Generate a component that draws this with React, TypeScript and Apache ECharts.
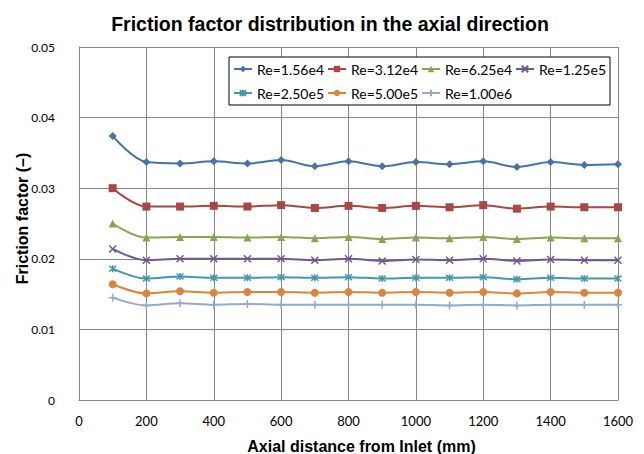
import React, { useEffect, useRef } from "react";
import * as echarts from "echarts";

const titleText = "Friction factor distribution in the axial direction";
const xName = "Axial distance from Inlet (mm)";
const yName = "Friction factor (–)";

const positions = [100, 200, 300, 400, 500, 600, 700, 800, 900, 1000, 1100, 1200, 1300, 1400, 1500, 1600];

const seriesNames = ["Re=1.56e4", "Re=3.12e4", "Re=6.25e4", "Re=1.25e5", "Re=2.50e5", "Re=5.00e5", "Re=1.00e6"];

const re156e4 = [0.0374, 0.0337, 0.0335, 0.0338, 0.0335, 0.0340, 0.0331, 0.0338, 0.0331, 0.0337, 0.0334, 0.0338, 0.0330, 0.0337, 0.0333, 0.0334];
const re312e4 = [0.0300, 0.0274, 0.0274, 0.0275, 0.0274, 0.0276, 0.0272, 0.0275, 0.0272, 0.0275, 0.0273, 0.0276, 0.0271, 0.0274, 0.0273, 0.0273];
const re625e4 = [0.0250, 0.0230, 0.0231, 0.0231, 0.0230, 0.0231, 0.0229, 0.0231, 0.0228, 0.0230, 0.0229, 0.0231, 0.0228, 0.0230, 0.0229, 0.0229];
const re125e5 = [0.0214, 0.0198, 0.0200, 0.0200, 0.0200, 0.0200, 0.0198, 0.0200, 0.0197, 0.0199, 0.0198, 0.0200, 0.0197, 0.0199, 0.0198, 0.0198];
const re250e5 = [0.0186, 0.0172, 0.0175, 0.0173, 0.0173, 0.0174, 0.0173, 0.0174, 0.0172, 0.0173, 0.0173, 0.0174, 0.0171, 0.0173, 0.0172, 0.0172];
const re500e5 = [0.0164, 0.0151, 0.0154, 0.0152, 0.0153, 0.0153, 0.0152, 0.0153, 0.0152, 0.0153, 0.0152, 0.0153, 0.0151, 0.0153, 0.0152, 0.0152];
const re100e6 = [0.0145, 0.0134, 0.0137, 0.0135, 0.0136, 0.0135, 0.0135, 0.0135, 0.0135, 0.0135, 0.0134, 0.0135, 0.0134, 0.0135, 0.0135, 0.0135];

const seriesValues = [re156e4, re312e4, re625e4, re125e5, re250e5, re500e5, re100e6];
const colors = ["#4572A7", "#AA4643", "#89A54E", "#71588F", "#4198AF", "#DB843D", "#93A9CF"];
const symbols = [
  "diamond",
  "rect",
  "triangle",
  "path://M0,0L10,10M10,0L0,10",
  "path://M0,0L10,10M10,0L0,10M5,-1L5,11",
  "circle",
  "path://M5,0L5,10M0,5L10,5",
];
const symbolSizes = [8, 8, 8, 7, 7, 8, 8];
const stroked = [false, false, false, true, true, false, true];

export default function App() {
  const ref = useRef<HTMLDivElement>(null);
  useEffect(() => {
    if (!ref.current) return;
    const chart = echarts.init(ref.current, null, { renderer: "svg" });
    const series = seriesNames.map((name, i) => ({
      name,
      type: "line",
      data: positions.map((p, j) => [p, seriesValues[i][j]]),
      smooth: 0.35,
      symbol: symbols[i],
      symbolSize: symbolSizes[i],
      showAllSymbol: true,
      lineStyle: { color: colors[i], width: 2 },
      itemStyle: stroked[i]
        ? { color: colors[i], borderColor: colors[i], borderWidth: 1.5 }
        : { color: colors[i], borderWidth: 0 },
      emphasis: { disabled: true },
    }));
    chart.setOption({
      animation: false,
      backgroundColor: "#ffffff",
      title: {
        text: titleText,
        left: 325,
        top: 9,
        textAlign: "center",
        textStyle: { fontFamily: "Liberation Sans", fontWeight: "bold", fontSize: 19.5, color: "#000" },
      },
      legend: {
        left: 229,
        top: 57,
        width: 420,
        padding: [1, 3, 1, 4],
        itemGap: 2,
        itemWidth: 18,
        itemHeight: 8,
        borderColor: "#000",
        borderWidth: 1,
        backgroundColor: "#fff",
        data: seriesNames,
        textStyle: { fontFamily: "Lato", fontSize: 14, color: "#000", lineHeight: 22, width: 68 },
      },
      grid: { left: 79, right: 26, top: 47, bottom: 54, containLabel: false, outerBoundsMode: "none" },
      xAxis: {
        type: "value",
        min: 0,
        max: 1600,
        interval: 200,
        name: xName,
        nameLocation: "middle",
        nameGap: 38,
        nameTextStyle: { fontFamily: "Liberation Sans", fontWeight: "bold", fontSize: 16, color: "#000", padding: [0, 0, 0, 26] },
        axisLine: { show: true, lineStyle: { color: "#868686", width: 1 } },
        axisTick: { show: false },
        axisLabel: { fontFamily: "Lato", fontSize: 13, color: "#000", margin: 14, formatter: (v: number) => String(v) },
        splitLine: { show: true, lineStyle: { color: "#868686", width: 1 } },
      },
      yAxis: {
        type: "value",
        min: 0,
        max: 0.05,
        interval: 0.01,
        name: yName,
        nameLocation: "middle",
        nameGap: 49,
        nameMoveOverlap: false,
        nameTextStyle: { fontFamily: "Liberation Sans", fontWeight: "bold", fontSize: 16, color: "#000", padding: [0, 0, 0, 10] },
        axisLine: { show: true, lineStyle: { color: "#868686", width: 1 } },
        axisTick: { show: false },
        axisLabel: { fontFamily: "Lato", fontSize: 12, color: "#000", margin: 24 },
        splitLine: { show: true, lineStyle: { color: "#868686", width: 1 } },
      },
      series,
    });
    return () => chart.dispose();
  }, []);
  return <div ref={ref} style={{ position: "absolute", left: 0, top: 0, width: 644, height: 454 }} />;
}
